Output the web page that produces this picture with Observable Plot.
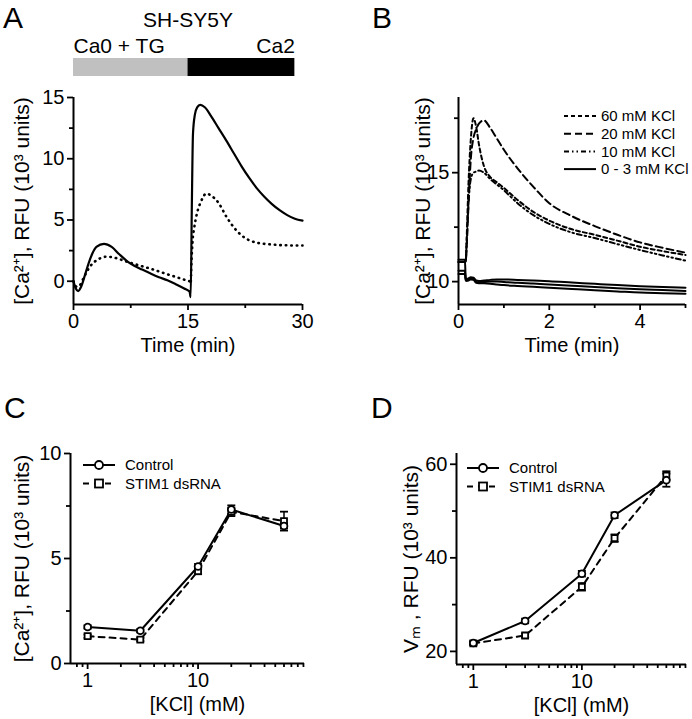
<!DOCTYPE html>
<html><head><meta charset="utf-8">
<script src="https://cdn.jsdelivr.net/npm/d3@7"></script>
<script src="https://cdn.jsdelivr.net/npm/@observablehq/plot@0.6"></script>
<style>
body{margin:0;background:#fff;}
#fig{position:relative;width:692px;height:719px;font-family:"Liberation Sans",Arial,sans-serif;color:#000;overflow:hidden;}
.letter{position:absolute;font-size:30px;line-height:34px;}
</style></head><body><div id="fig"></div>
<script>
// ---------- Panel A data ----------
const titleA = "SH-SY5Y";
const phaseLabels = ["Ca0 + TG", "Ca2"];
const phaseStart = [0, 15];
const phaseEnd = [15, 29];
const phaseFill = ["#c0c0c0", "#000000"];

const timeAsolid = [0,0.3,0.6,1.0,1.5,2.0,2.5,3.0,4.0,5.0,6.0,7.0,7.9,9.0,10.1,11.2,12.3,13.4,14.5,15.2,15.35,15.5,15.65,15.9,16.2,16.6,17.2,18,19,20,21,22,23,24,25,26,27,28,29,30];
const valueAsolid = [0,-0.6,-0.8,-0.45,0.5,1.5,2.3,2.8,3.05,2.8,2.2,1.65,1.28,0.95,0.63,0.33,0.08,-0.25,-0.6,-0.85,-1.3,6,12,13.6,14.2,14.4,14.2,13.5,12.5,11.5,10.45,9.4,8.45,7.6,6.9,6.3,5.8,5.4,5.1,4.95];
const timeAdotted = [0,0.4,0.8,1.2,1.6,2.0,2.5,3.0,3.6,4.3,5.0,5.8,6.6,7.9,9.0,10.0,11.2,12.3,13.4,14.45,15.2,15.35,15.45,15.6,15.8,16.2,16.7,17.4,18,19,20,21,22,23,24,25,26,27,28,29,30];
const valueAdotted = [0,-0.45,-0.35,0.1,0.6,1.05,1.45,1.7,1.9,2.0,1.97,1.85,1.68,1.42,1.22,1.04,0.8,0.57,0.35,0.14,0.0,-0.2,1.5,3.3,4.3,5.6,6.5,7.15,7.0,6.4,5.3,4.4,3.75,3.35,3.15,3.05,3.0,2.95,2.93,2.92,2.92];
const xTicksA = [0, 15, 30], xMinorA = [7.5, 22.5];
const yTicksA = [0, 5, 10, 15], yMinorA = [2.5, 7.5, 12.5];
const xDomainA = [0, 30], yDomainA = [-1.9, 15];
const xLabelA = "Time (min)";
const yLabelA = "[Ca²⁺], RFU (10³ units)";

// ---------- Panel B data ----------
const timeB = [0,0.14,0.16,0.18,0.22,0.27,0.33,0.39,0.45,0.56,0.7,0.85,1.0,1.3,1.65,2.0,2.5,3.0,3.5,4.0,4.5,5.0];
const kcl60 = [10.9,10.9,10.95,12.0,14.5,16.5,17.5,17.1,16.3,15.3,14.8,14.55,14.3,13.75,13.2,12.8,12.4,12.15,11.88,11.6,11.4,11.22];
const kcl20 = [10.9,10.9,10.95,11.6,13.5,15.6,16.6,17.0,17.25,17.4,17.05,16.55,16.05,15.2,14.35,13.6,13.0,12.55,12.15,11.8,11.55,11.33];
const kcl10 = [10.9,10.9,10.95,11.8,13.6,14.7,15.0,15.05,15.1,15.0,14.7,14.45,14.19,13.6,13.05,12.65,12.25,12.0,11.72,11.45,11.2,10.96];
const kcl0a = [11.0,11.0,10.15,10.12,10.15,10.2,10.18,10.05,10.03,10.05,10.08,10.1,10.1,10.08,10.05,10.02,9.96,9.9,9.84,9.79,9.75,9.72];
const kcl0b = [10.5,10.5,10.1,10.08,10.1,10.15,10.12,9.98,9.97,9.98,10.0,10.0,9.98,9.95,9.91,9.87,9.81,9.75,9.7,9.65,9.61,9.57];
const kcl0c = [10.35,10.35,10.05,10.03,10.05,10.1,10.08,9.95,9.93,9.92,9.9,9.87,9.84,9.8,9.76,9.72,9.66,9.6,9.55,9.5,9.47,9.44];
const legendB = ["60 mM KCl", "20 mM KCl", "10 mM KCl", "0 - 3 mM KCl"];
const dashB = ["4,3", "7,4", "5,3,1.5,3,1.5,3", null];
const xTicksB = [0, 2, 4], xMinorB = [1, 3, 5];
const yTicksB = [10, 15], yMinorB = [12.5, 17.5];
const xDomainB = [0, 5], yDomainB = [8.95, 18.45];
const xLabelB = "Time (min)";
const yLabelB = "[Ca²⁺], RFU (10³ units)";

// ---------- Panels C and D data ----------
const kcl = [1, 3, 10, 20, 60];
const seriesNames = ["Control", "STIM1 dsRNA"];
const caControl = [1.74, 1.56, 4.62, 7.33, 6.55];
const caControlErr = [0.08, 0.08, 0.12, 0.2, 0.12];
const caStim = [1.30, 1.14, 4.40, 7.22, 6.78];
const caStimErr = [0.08, 0.08, 0.15, 0.2, 0.45];
const vmControl = [21.8, 26.5, 36.6, 49.1, 56.6];
const vmControlErr = [0.4, 0.5, 0.6, 0.6, 1.4];
const vmStim = [21.7, 23.4, 33.8, 44.2, 57.6];
const vmStimErr = [0.3, 0.4, 0.8, 0.8, 0.9];
const xMajorLog = [1, 10];
const xMinorLog = [0.8, 0.9, 2, 3, 4, 5, 6, 7, 8, 9, 20, 30, 40, 50, 60, 70, 80, 90];
const xDomainLog = [0.7, 92];
const yDomainC = [0, 10], yTicksC = [0, 5, 10], yMinorC = [2.5, 7.5];
const yDomainD = [17.2, 62.3], yTicksD = [20, 40, 60], yMinorD = [30, 50];
const xLabelCD = "[KCl] (mM)";
const yLabelC = "[Ca²⁺], RFU (10³ units)";
const yLabelD = "Vₘ , RFU (10³ units)";

// ---------- helpers ----------
const FONT = "'Liberation Sans', Arial, sans-serif";
const fig = document.getElementById("fig");
function place(node, left, top) {
  node.style.position = "absolute";
  node.style.left = left + "px";
  node.style.top = top + "px";
  fig.appendChild(node);
}
const baseStyle = {fontFamily: FONT, fontSize: "20px", background: "transparent", overflow: "visible", color: "#000"};
const capSymbol = {draw(ctx) { ctx.moveTo(-4, 0); ctx.lineTo(4, 0); }};

function axes(xd, yd, xt, xm, yt, ym, xl, yl, ylDx, xlDx) {
  return [
    Plot.ruleX([xd[0]], {strokeWidth: 2}),
    Plot.ruleY([yd[0]], {strokeWidth: 2}),
    Plot.axisX(xt, {tickSize: 6, tickPadding: 3, strokeWidth: 1.8, label: null}),
    Plot.axisX(xm, {tickSize: 4, strokeWidth: 1.8, tickFormat: () => "", label: null}),
    Plot.axisY(yt, {tickSize: 6, tickPadding: 3, strokeWidth: 1.8, label: null}),
    Plot.axisY(ym, {tickSize: 4, strokeWidth: 1.8, tickFormat: () => "", label: null}),
    Plot.text([yl], {frameAnchor: "left", dx: ylDx, rotate: -90, textAnchor: "middle", lineAnchor: "middle", fontSize: 21}),
    Plot.text([xl], {frameAnchor: "bottom", dy: 41, dx: xlDx || 0, textAnchor: "middle", lineAnchor: "middle"})
  ];
}

// ---------- Panel A ----------
const phaseRows = phaseLabels.map((label, i) => ({label, start: phaseStart[i], end: phaseEnd[i], fill: phaseFill[i]}));
const barA = Plot.plot({
  width: 346, height: 76, marginLeft: 73, marginRight: 44, marginTop: 58, marginBottom: 0,
  style: baseStyle,
  x: {domain: xDomainA, axis: null}, y: {axis: null},
  marks: [
    Plot.rect(phaseRows, {x1: "start", x2: "end", fill: "fill"}),
    Plot.text([titleA], {frameAnchor: "top", dy: -38.5, fontSize: 21, lineAnchor: "middle", textAnchor: "middle"}),
    Plot.text(phaseRows.slice(0, 1), {x: "start", text: "label", frameAnchor: "top", textAnchor: "start", lineAnchor: "middle", dy: -12.5, fontSize: 21}),
    Plot.text(phaseRows.slice(-1), {x: "end", text: "label", frameAnchor: "top", textAnchor: "end", lineAnchor: "middle", dy: -12.5, fontSize: 21})
  ]
});
place(barA, 0, 0);

const rowsAsolid = timeAsolid.map((t, i) => ({t, v: valueAsolid[i]}));
const rowsAdotted = timeAdotted.map((t, i) => ({t, v: valueAdotted[i]}));
const plotA = Plot.plot({
  width: 346, height: 360, marginLeft: 73, marginRight: 44, marginTop: 97, marginBottom: 56,
  style: baseStyle,
  x: {domain: xDomainA}, y: {domain: yDomainA},
  marks: [
    Plot.line(rowsAdotted, {x: "t", y: "v", curve: "monotone-x", strokeWidth: 2.6, strokeDasharray: "0.5,5", strokeLinecap: "round"}),
    Plot.line(rowsAsolid, {x: "t", y: "v", curve: "monotone-x", strokeWidth: 2.2}),
    ...axes(xDomainA, yDomainA, xTicksA, xMinorA, yTicksA, yMinorA, xLabelA, yLabelA, -51)
  ]
});
place(plotA, 0, 0);

// ---------- Panel B ----------
const seriesB = [kcl60, kcl20, kcl10, kcl0a, kcl0b, kcl0c];
const dashSeriesB = [dashB[0], dashB[1], dashB[2], dashB[3], dashB[3], dashB[3]];
const plotB = Plot.plot({
  width: 346, height: 360, marginLeft: 112, marginRight: 7, marginTop: 97, marginBottom: 56,
  style: baseStyle,
  x: {domain: xDomainB}, y: {domain: yDomainB},
  marks: [
    ...seriesB.map((vals, k) => Plot.line(timeB.map((t, i) => ({t, v: vals[i]})), {
      x: "t", y: "v", curve: "monotone-x", strokeWidth: 2, strokeDasharray: dashSeriesB[k] || undefined
    })),
    ...axes(xDomainB, yDomainB, xTicksB, xMinorB, yTicksB, yMinorB, xLabelB, yLabelB, -35)
  ]
});
place(plotB, 346, 0);

// Legend B
(function () {
  const svg = d3.create("svg").attr("width", 130).attr("height", 80)
    .style("font-family", FONT).style("font-size", "15px").style("overflow", "visible");
  legendB.forEach((lab, i) => {
    const g = svg.append("g").attr("transform", `translate(0,${8 + i * 17.7})`);
    g.append("line").attr("x1", 0).attr("x2", 32).attr("stroke", "#000").attr("stroke-width", 2)
      .attr("stroke-dasharray", dashB[i]);
    g.append("text").attr("x", 37).attr("dy", "0.35em").text(lab);
  });
  place(svg.node(), 564, 108);
})();

// ---------- Panels C and D ----------
function dosePlot(ctrl, ctrlErr, stim, stimErr, yd, yt, ym, yl, ylDx, ml, mr, mb) {
  const rc = kcl.map((x, i) => ({x, v: ctrl[i], e: ctrlErr[i]}));
  const rs = kcl.map((x, i) => ({x, v: stim[i], e: stimErr[i]}));
  const err = (rows) => [
    Plot.ruleX(rows, {x: "x", y1: d => d.v - d.e, y2: d => d.v + d.e, strokeWidth: 1.5}),
    Plot.dot(rows, {x: "x", y: d => d.v + d.e, symbol: capSymbol, stroke: "black", strokeWidth: 1.8, fill: "none"}),
    Plot.dot(rows, {x: "x", y: d => d.v - d.e, symbol: capSymbol, stroke: "black", strokeWidth: 1.8, fill: "none"})
  ];
  return Plot.plot({
    width: 346, height: 359, marginLeft: ml, marginRight: mr, marginTop: 93, marginBottom: mb,
    style: baseStyle,
    x: {type: "log", domain: xDomainLog}, y: {domain: yd},
    marks: [
      ...err(rs), ...err(rc),
      Plot.line(rs, {x: "x", y: "v", strokeWidth: 2, strokeDasharray: "6,5"}),
      Plot.line(rc, {x: "x", y: "v", strokeWidth: 2}),
      Plot.dot(rs, {x: "x", y: "v", symbol: "square", r: 3.4, fill: "white", stroke: "black", strokeWidth: 1.8}),
      Plot.dot(rc, {x: "x", y: "v", symbol: "circle", r: 3.4, fill: "white", stroke: "black", strokeWidth: 1.8}),
      ...axes(xDomainLog, yd, xMajorLog, xMinorLog, yt, ym, xLabelCD, yl, ylDx, 10)
    ]
  });
}
place(dosePlot(caControl, caControlErr, caStim, caStimErr, yDomainC, yTicksC, yMinorC, yLabelC, -48, 70, 42, 56), 0, 360);
place(dosePlot(vmControl, vmControlErr, vmStim, vmStimErr, yDomainD, yTicksD, yMinorD, yLabelD, -45, 110, 6, 55), 346, 360);

function seriesLegend(left, top) {
  const svg = d3.create("svg").attr("width", 140).attr("height", 40)
    .style("font-family", FONT).style("font-size", "15px").style("overflow", "visible");
  seriesNames.forEach((lab, i) => {
    const g = svg.append("g").attr("transform", `translate(0,${6 + i * 18.5})`);
    g.append("line").attr("x1", 0).attr("x2", 32).attr("stroke", "#000").attr("stroke-width", 2)
      .attr("stroke-dasharray", i ? "6,5" : null);
    if (i === 0) g.append("circle").attr("cx", 16).attr("r", 4).attr("fill", "white").attr("stroke", "#000").attr("stroke-width", 1.8);
    else g.append("rect").attr("x", 12).attr("y", -4).attr("width", 8).attr("height", 8).attr("fill", "white").attr("stroke", "#000").attr("stroke-width", 1.8);
    g.append("text").attr("x", 42).attr("dy", "0.35em").text(lab);
  });
  place(svg.node(), left, top);
}
seriesLegend(83, 459);
seriesLegend(467, 462);

// ---------- Panel letters ----------
[["A", 3, 1], ["B", 372, 1], ["C", 4, 391], ["D", 371, 391]].forEach(([t, x, y]) => {
  const d = document.createElement("div");
  d.className = "letter";
  d.textContent = t;
  place(d, x, y);
});
</script></body></html>
